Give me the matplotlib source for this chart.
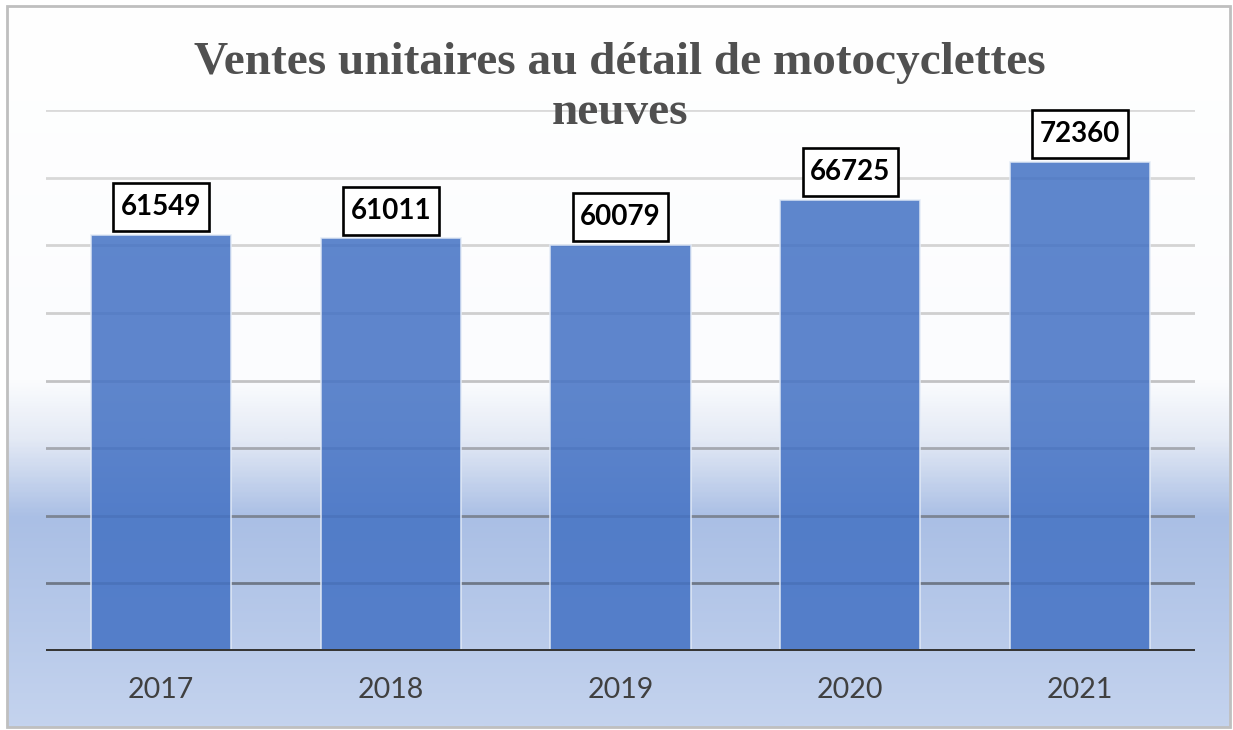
import numpy as np
import matplotlib
matplotlib.use("Agg")
import matplotlib.pyplot as plt
from matplotlib.colors import LinearSegmentedColormap
from matplotlib.patches import Rectangle

# data
years = ["2017", "2018", "2019", "2020", "2021"]
sales = [61549, 61011, 60079, 66725, 72360]
grid_values = [10000, 20000, 30000, 40000, 50000, 60000, 70000, 80000]
grid_colors = ["#6f7888", "#7c8594", "#a4a8b0", "#c2c2c4", "#cfcfcf", "#d4d4d4", "#d8d8d8", "#dadada"]

title = "Ventes unitaires au détail de motocyclettes\nneuves"

W, H = 1233, 730
fig = plt.figure(figsize=(W / 100, H / 100), dpi=100)
fig.patch.set_facecolor("white")

# background gradient (chart area fill)
bg = fig.add_axes([0, 0, 1, 1], zorder=0)
bg.set_xlim(0, W)
bg.set_ylim(H, 0)
bg.axis("off")
cmap = LinearSegmentedColormap.from_list(
    "bgfill",
    [(0.0, "#ffffff"), (0.52, "#fbfcfe"), (0.60, "#e4eaf5"), (0.71, "#aabfe5"), (1.0, "#c4d3ee")],
)
grad = np.linspace(0, 1, 400).reshape(-1, 1)
bg.imshow(grad, cmap=cmap, extent=[7, 1230, 727, 6], aspect="auto", interpolation="bilinear")
bg.add_patch(Rectangle((7, 6), 1223, 721, fill=False, edgecolor="#bfbfbf", lw=2))

ax = fig.add_axes([46 / W, 79 / H, 1149 / W, 541 / H], zorder=1)
ax.set_facecolor("none")
x = np.arange(len(years))

for v, c in zip(grid_values, grid_colors):
    ax.axhline(v, color=c, lw=2, zorder=1)

bars = ax.bar(x, sales, width=0.61, color="#4472c4", alpha=0.86,
              edgecolor="#e3ebf7", linewidth=1.2, zorder=2)

# value labels in boxes
for xi, v in zip(x, sales):
    ax.annotate(str(v), (xi, v), xytext=(0, 10.5), textcoords="offset points",
                ha="center", va="bottom", fontsize=20, fontweight="bold",
                family="Lato", color="black", zorder=5,
                bbox=dict(boxstyle="square,pad=0.27", fc="white", ec="black", lw=1.9,
                          mutation_aspect=1.5))

ax.axhline(0, color="#363636", lw=3.6, zorder=4)

ax.set_xlim(-0.5, len(years) - 0.5)
ax.set_ylim(0, 80000)
ax.set_yticks([])
ax.set_xticks(x)
ax.set_xticklabels(years, family="Lato", fontsize=20.5, color="#404040")
ax.tick_params(axis="x", length=0, pad=19)
for s in ax.spines.values():
    s.set_visible(False)

fig.text(620 / W, 1 - 88 / H, title, ha="center", va="center", family="Liberation Serif",
         fontweight="bold", fontsize=34, color="#505050", linespacing=1.22, zorder=10)

fig.savefig("out.png", dpi=100)
